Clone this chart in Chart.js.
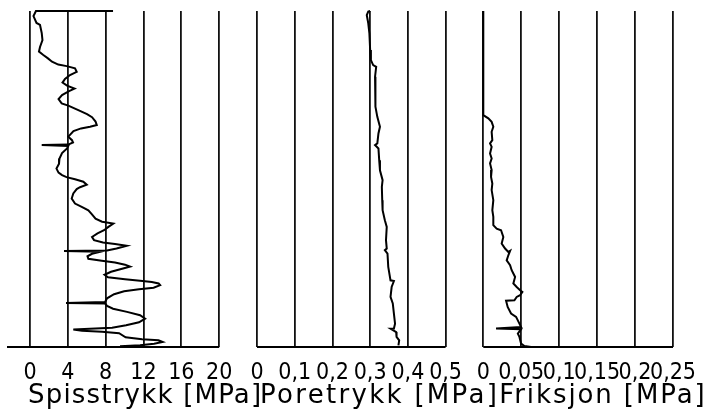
<!DOCTYPE html>
<html>
<head>
<meta charset="utf-8">
<script src="https://cdn.jsdelivr.net/npm/chart.js@4"></script>
<style>
  html, body { margin: 0; padding: 0; background: #fff; }
  #wrap { width: 704px; height: 409px; position: relative; }
</style>
</head>
<body>
<div id="wrap"><canvas id="cpt"></canvas></div>
<script>
// CPT-sondering: spisstrykk, poretrykk, friksjon mot dybde
const axisTitles = ['Spisstrykk [MPa]', 'Poretrykk [MPa]', 'Friksjon [MPa]'];

const qTicks = [0, 4, 8, 12, 16, 20];
const qTickLabels = ['0', '4', '8', '12', '16', '20'];
const uTicks = [0, 0.1, 0.2, 0.3, 0.4, 0.5];
const uTickLabels = ['0', '0,1', '0,2', '0,3', '0,4', '0,5'];
const fTicks = [0, 0.05, 0.1, 0.15, 0.2, 0.25];
const fTickLabels = ['0', '0,05', '0,1', '0,15', '0,2', '0,25'];

// spisstrykk (MPa) og dybde
const qDepth = [0,0,0.30,0.71,0.83,1.31,1.73,2.14,2.42,2.62,
  2.82,3.02,3.19,3.28,3.41,3.62,3.81,4.05,4.26,4.44,
  4.62,4.77,5.00,5.24,5.50,5.63,5.90,6.14,6.32,6.58,
  6.79,6.89,6.99,7.15,7.48,7.69,7.83,7.95,7.98,8.03,
  8.18,8.46,8.78,9.09,9.38,9.62,9.77,9.89,10.01,10.16,
  10.34,10.49,10.60,10.86,11.16,11.46,11.66,11.86,12.09,12.36,
  12.54,12.65,12.85,13.05,13.24,13.45,13.64,13.78,13.87,13.97,
  14.14,14.26,14.29,14.33,14.45,14.60,14.75,14.86,14.97,15.10,
  15.21,15.33,15.52,15.70,15.85,15.97,16.06,16.13,16.22,16.32,
  16.47,16.56,16.68,16.86,17.10,17.32,17.38,17.41,17.55,17.72,
  17.91,18.11,18.31,18.53,18.71,18.86,18.96,19.03,19.09,19.18,
  19.42,19.54,19.60,19.70,19.80,19.90,19.96];
const qValue = [8.78,0.63,0.37,0.69,1.06,1.24,1.32,1.06,0.95,1.41,
  1.90,2.33,2.99,3.88,4.76,4.94,4.23,3.70,3.44,3.92,
  4.71,4.13,3.39,3.02,3.35,4.05,5.11,6.03,6.56,6.93,
  7.06,6.35,5.40,4.60,4.05,4.44,4.55,4.05,1.24,4.05,
  3.92,3.39,3.12,3.07,2.80,3.02,3.39,3.86,4.76,5.64,
  6.00,5.29,4.94,4.58,4.41,4.76,5.47,6.17,6.53,6.93,
  7.62,8.81,8.29,7.83,7.14,6.56,6.77,7.72,8.99,10.23,
  9.15,8.15,3.60,7.41,6.56,6.08,6.17,7.59,8.99,10.05,
  10.58,9.84,8.57,7.88,8.25,10.05,11.64,12.88,13.60,13.76,
  13.07,11.53,9.95,8.89,8.15,7.94,3.81,7.94,8.15,8.78,
  10.26,11.64,12.17,11.53,10.16,8.68,4.58,5.50,7.62,9.42,
  10.11,11.85,13.58,14.02,13.12,11.64,9.52];

// poretrykk (MPa)
const uDepth = [0,0.04,0.24,0.73,1.33,2.32,2.92,3.22,3.32,3.91,
  4.71,5.70,6.30,6.89,7.29,7.88,7.98,8.18,8.88,9.48,
  10.07,10.47,11.26,11.86,12.45,12.85,13.64,14.14,14.24,14.44,
  15.23,16.03,16.07,16.43,17.02,17.41,18.01,18.61,18.90,18.91,
  19.11,19.40,19.60,19.90];
const uValue = [0.300,0.295,0.291,0.295,0.298,0.300,0.302,0.308,0.316,0.313,
  0.315,0.313,0.319,0.326,0.322,0.319,0.313,0.322,0.324,0.326,
  0.333,0.331,0.332,0.333,0.339,0.344,0.342,0.344,0.339,0.346,
  0.348,0.354,0.363,0.357,0.354,0.360,0.363,0.366,0.363,0.354,
  0.369,0.370,0.377,0.375];

// friksjon (MPa)
const fDepth = [0,6.20,6.39,6.60,6.89,7.19,7.69,7.88,8.08,8.48,
  8.78,9.07,9.47,9.87,10.27,10.66,11.26,11.86,12.25,12.75,
  12.96,13.05,13.45,13.84,14.14,14.34,14.28,14.54,14.84,15.13,
  15.43,15.83,16.22,16.43,16.62,16.72,16.92,17.02,17.22,17.24,
  17.62,18.01,18.21,18.61,18.81,18.90,18.94,19.20,19.40,19.80,
  19.94,20.00];
const fValue = [0,0,0.0066,0.0110,0.0132,0.0110,0.0119,0.0089,0.0110,0.0089,
  0.0110,0.0089,0.0110,0.0102,0.0119,0.0110,0.0132,0.0119,0.0132,0.0132,
  0.0176,0.0234,0.0264,0.0242,0.0287,0.0330,0.0353,0.0330,0.0308,0.0353,
  0.0374,0.0419,0.0396,0.0440,0.0485,0.0515,0.0485,0.0440,0.0410,0.0300,
  0.0321,0.0366,0.0432,0.0476,0.0498,0.0168,0.0498,0.0455,0.0476,0.0498,
  0.0542,0.0630];

function pts(depth, vals) {
  return depth.map((d, i) => ({ x: vals[i], y: d }));
}

const FONT = 'DejaVu Sans';
const TICK_FONT = '"Liberation Sans Narrow", "DejaVu Sans Condensed", "DejaVu Sans"';

function panelAxis(min, max, weight, ticks, labels) {
  return {
    type: 'linear',
    position: 'bottom',
    stack: 'panels',
    stackWeight: weight,
    min: min,
    max: max,
    afterBuildTicks: s => { s.ticks = ticks.map(v => ({ value: v })); },
    afterFit: s => {
      s.height = 62;
      s.paddingLeft = 0; s.paddingRight = 0;
    },
    ticks: {
      autoSkip: false, maxRotation: 0, minRotation: 0,
      padding: 12, color: '#000',
      font: { family: TICK_FONT, size: 23 },
      callback: (v, i) => labels[i]
    },
    grid: { drawTicks: false, color: '#111', lineWidth: 1.8 },
    border: { display: false }
  };
}

// bunnlinjer og aksetitler
const panelFrame = {
  id: 'panelFrame',
  afterDraw(chart, args, opts) {
    const ctx = chart.ctx;
    const bottom = chart.chartArea.bottom;
    ctx.save();
    ctx.strokeStyle = '#000';
    ctx.lineWidth = 2;
    ['x1', 'x2', 'x3'].forEach((id, i) => {
      const s = chart.scales[id];
      const t = s.ticks;
      const from = i === 0 ? s.left : s.getPixelForValue(t[0].value);
      ctx.beginPath();
      ctx.moveTo(from, bottom);
      ctx.lineTo(s.getPixelForValue(t[t.length - 1].value), bottom);
      ctx.stroke();
      ctx.font = '26px "' + FONT + '"';
      ctx.letterSpacing = opts.spacing[i];
      ctx.fillStyle = '#000';
      ctx.textAlign = 'left';
      ctx.textBaseline = 'alphabetic';
      ctx.fillText(axisTitles[i], s.getPixelForValue(t[0].value) + opts.shift[i], opts.baseline);
    });
    ctx.restore();
  }
};

const line = { showLine: true, pointRadius: 0, borderColor: '#000', borderWidth: 2, fill: false, clip: false };

new Chart(document.getElementById('cpt'), {
  type: 'scatter',
  data: {
    datasets: [
      Object.assign({ label: axisTitles[0], data: pts(qDepth, qValue), xAxisID: 'x1' }, line),
      Object.assign({ label: axisTitles[1], data: pts(uDepth, uValue), xAxisID: 'x2' }, line),
      Object.assign({ label: axisTitles[2], data: pts(fDepth, fValue), xAxisID: 'x3' }, line)
    ]
  },
  options: {
    responsive: true,
    maintainAspectRatio: false,
    animation: false,
    devicePixelRatio: 1,
    layout: { padding: { left: 7, right: 31, top: 11, bottom: 0 } },
    plugins: {
      legend: { display: false },
      tooltip: { enabled: false },
      panelFrame: { shift: [-2, 3, 16], baseline: 403, spacing: ['1.2px', '2.3px', '1.9px'] }
    },
    scales: {
      x1: panelAxis(-2.43, 24, 250, qTicks, qTickLabels),
      x2: panelAxis(0, 0.6, 226.3, uTicks, uTickLabels),
      x3: panelAxis(0, 0.25, 189.7, fTicks, fTickLabels),
      y: { display: false, reverse: true, min: 0, max: 20 }
    }
  },
  plugins: [panelFrame]
});
</script>
</body>
</html>
